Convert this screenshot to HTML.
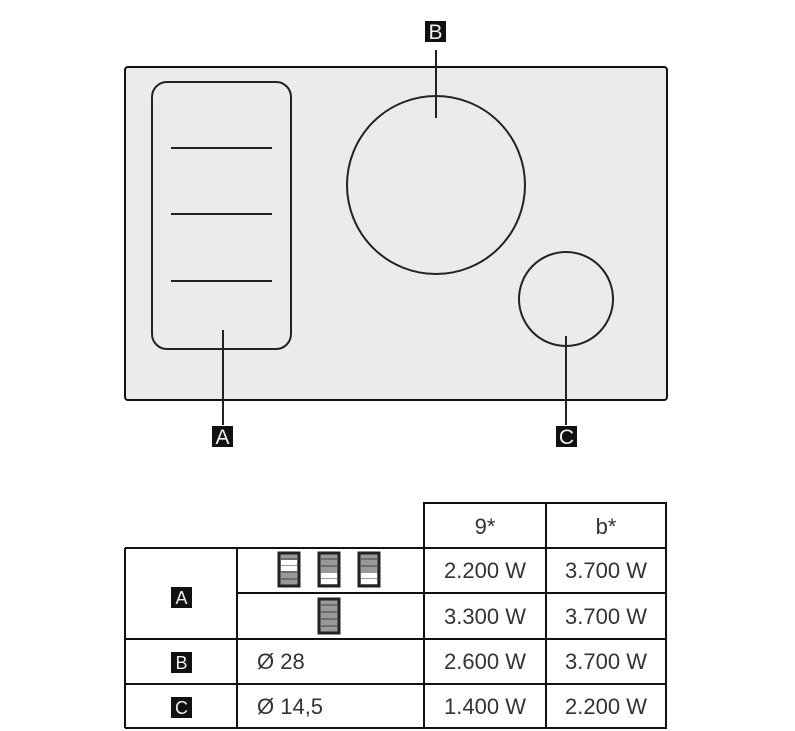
<!DOCTYPE html>
<html><head><style>body{margin:0;background:#fff}svg{display:block}text{font-family:"Liberation Sans",sans-serif}</style></head><body>
<svg width="795" height="731" viewBox="0 0 795 731">
<rect x="125" y="67" width="542" height="333" rx="3" fill="#ebebeb" stroke="#111" stroke-width="2"/>
<rect x="152" y="82" width="139" height="267" rx="15" fill="none" stroke="#222" stroke-width="2"/>
<g stroke="#222" stroke-width="2"><line x1="171" y1="148" x2="272" y2="148"/><line x1="171" y1="214" x2="272" y2="214"/><line x1="171" y1="281" x2="272" y2="281"/>
<line x1="223" y1="330" x2="223" y2="425"/><line x1="436" y1="50" x2="436" y2="118"/><line x1="566" y1="336" x2="566" y2="425"/></g>
<circle cx="436" cy="185" r="89" fill="none" stroke="#222" stroke-width="2"/>
<circle cx="566" cy="299" r="47" fill="none" stroke="#222" stroke-width="2"/>
<g font-size="21" fill="#eee" text-anchor="middle">
<rect x="425" y="21" width="21" height="21" fill="#111"/><text x="435.5" y="39">B</text>
<rect x="212" y="426" width="21" height="21" fill="#111"/><text x="222.5" y="444">A</text>
<rect x="556" y="426" width="21" height="21" fill="#111"/><text x="566.5" y="444">C</text>
</g>
<g stroke="#111" stroke-width="2" fill="none">
<rect x="424" y="503" width="242" height="225"/>
<line x1="546" y1="503" x2="546" y2="728"/>
<line x1="125" y1="548" x2="666" y2="548"/>
<line x1="125" y1="548" x2="125" y2="728"/>
<line x1="125" y1="728" x2="666" y2="728"/>
<line x1="237" y1="548" x2="237" y2="728"/>
<line x1="237" y1="593" x2="666" y2="593"/>
<line x1="125" y1="639" x2="666" y2="639"/>
<line x1="125" y1="684" x2="666" y2="684"/>
</g>
<g font-size="22" fill="#333" text-anchor="middle">
<text x="485" y="534">9*</text><text x="606" y="534">b*</text>
<text x="485" y="578">2.200 W</text><text x="606" y="578">3.700 W</text>
<text x="485" y="624">3.300 W</text><text x="606" y="624">3.700 W</text>
<text x="485" y="669">2.600 W</text><text x="606" y="669">3.700 W</text>
<text x="485" y="714">1.400 W</text><text x="606" y="714">2.200 W</text>
<text x="257" y="669" text-anchor="start">Ø 28</text>
<text x="257" y="714" text-anchor="start">Ø 14,5</text>
</g>
<g font-size="18" fill="#eee" text-anchor="middle">
<rect x="171" y="587" width="21" height="21" fill="#111"/><text x="181.5" y="604">A</text>
<rect x="171" y="652" width="21" height="21" fill="#111"/><text x="181.5" y="669">B</text>
<rect x="171" y="697" width="21" height="21" fill="#111"/><text x="181.5" y="714">C</text>
</g>
<g stroke="#222" stroke-width="3">
<g transform="translate(279,553)"><rect width="20" height="33" fill="#999"/><rect x="2" y="7" width="16" height="5" fill="#fff" stroke="none"/><rect x="2" y="13" width="16" height="5" fill="#fff" stroke="none"/></g>
<g transform="translate(319,553)"><rect width="20" height="33" fill="#999"/><rect x="2" y="20" width="16" height="5" fill="#fff" stroke="none"/><rect x="2" y="26" width="16" height="5" fill="#fff" stroke="none"/></g>
<g transform="translate(359,553)"><rect width="20" height="33" fill="#999"/><rect x="2" y="20" width="16" height="5" fill="#fff" stroke="none"/><rect x="2" y="26" width="16" height="5" fill="#fff" stroke="none"/></g>
<g transform="translate(319,599)"><rect width="20" height="34" fill="#999"/></g>
</g>
<g stroke="#444" stroke-width="1">
<line x1="281" y1="559" x2="297" y2="559"/><line x1="281" y1="572" x2="297" y2="572"/><line x1="281" y1="579" x2="297" y2="579"/>
<line x1="321" y1="559" x2="337" y2="559"/><line x1="321" y1="566" x2="337" y2="566"/>
<line x1="361" y1="559" x2="377" y2="559"/><line x1="361" y1="566" x2="377" y2="566"/>
<line x1="321" y1="605" x2="337" y2="605"/><line x1="321" y1="612" x2="337" y2="612"/><line x1="321" y1="619" x2="337" y2="619"/><line x1="321" y1="626" x2="337" y2="626"/>
</g>
</svg>
</body></html>
